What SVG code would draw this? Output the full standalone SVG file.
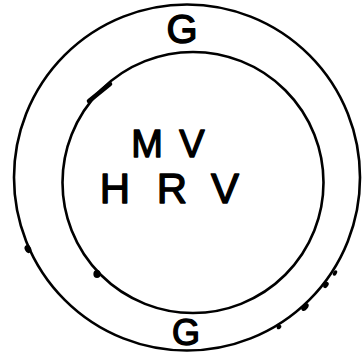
<svg xmlns="http://www.w3.org/2000/svg" width="362" height="358" viewBox="0 0 362 358">
<style>
.ring{fill:none;stroke:#000;stroke-width:2.6}
.lbl{font-family:"Liberation Sans",Arial,sans-serif;font-weight:normal;fill:#000;stroke:#000;stroke-width:1.4;stroke-linejoin:round;text-anchor:middle}
.dot{fill:#000}
</style>
<rect width="362" height="358" fill="#fff"/>
<g id="outer-ring">
<circle class="ring" cx="187" cy="177.5" r="173"/>
<ellipse class="dot" cx="28" cy="249" rx="3.2" ry="4.2" transform="rotate(-25 28 249)"/>
<ellipse class="dot" cx="305" cy="307" rx="2.8" ry="4.5" transform="rotate(40 305 307)"/>
<ellipse class="dot" cx="326" cy="285" rx="2.2" ry="3.5" transform="rotate(35 326 285)"/>
<ellipse class="dot" cx="335" cy="273" rx="1.8" ry="3" transform="rotate(30 335 273)"/>
<ellipse class="dot" cx="279" cy="327" rx="2" ry="2.6" transform="rotate(55 279 327)"/>
</g>
<g id="inner-ring">
<circle class="ring" cx="193" cy="182.5" r="130.5"/>
<path d="M89 101 L110 84" stroke="#000" stroke-width="4.5" stroke-linecap="round" fill="none"/>
<ellipse class="dot" cx="97" cy="274" rx="3.6" ry="4" />
</g>
<g id="labels">
<text class="lbl" x="182" y="43" font-size="40">G</text>
<text class="lbl" x="186" y="345" font-size="36">G</text>
<text class="lbl" x="147 192" y="157" font-size="38">MV</text>
<text class="lbl" x="115 172 225" y="203" font-size="42">HRV</text>
</g>
</svg>
